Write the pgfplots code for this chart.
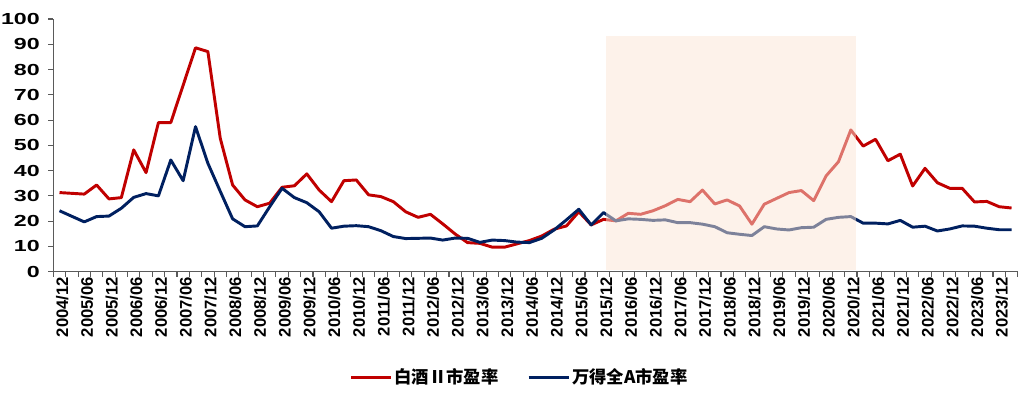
\documentclass[border=0pt]{standalone}
\usepackage{fontspec}
\usepackage{pgfplots}
\usepackage{pgfplotstable}
\pgfplotsset{compat=1.18}
\setmainfont{Liberation Sans}
\newfontfamily\widefont[FakeStretch=1.45]{Liberation Sans}
\newfontfamily\cjk{Noto Sans CJK SC}
\definecolor{redline}{RGB}{192,0,0}
\definecolor{blueline}{RGB}{0,32,96}
\definecolor{shadecol}{RGB}{251,229,213}
\definecolor{axgray}{RGB}{90,90,90}

\pgfplotstableread{
x y
0 31.3
1 31.0
2 30.7
3 34.3
4 28.8
5 29.3
6 48.2
7 39.2
8 59.0
9 59.0
10 73.8
11 88.6
12 87.1
13 52.8
14 34.3
15 28.4
16 25.7
17 27.1
18 33.4
19 34.0
20 38.7
21 32.3
22 27.7
23 36.0
24 36.3
25 30.4
26 29.7
27 27.7
28 23.7
29 21.5
30 22.7
31 18.9
32 14.9
33 11.5
34 11.2
35 9.7
36 9.7
37 11.0
38 12.3
39 14.1
40 16.8
41 18.1
42 23.7
43 18.5
44 20.7
45 20.1
46 23.1
47 22.7
48 24.1
49 26.1
50 28.6
51 27.7
52 32.3
53 26.8
54 28.4
55 26.0
56 18.8
57 26.7
58 29.0
59 31.3
60 32.1
61 28.1
62 37.9
63 43.5
64 56.1
65 49.7
66 52.4
67 43.9
68 46.5
69 33.9
70 40.9
71 35.2
72 33.0
73 33.0
74 27.6
75 27.8
76 25.7
77 25.2
}\baijiu

\pgfplotstableread{
x y
0 24.1
1 21.9
2 19.7
3 21.8
4 22.0
5 25.1
6 29.4
7 30.9
8 30.0
9 44.2
10 36.0
11 57.4
12 42.9
13 31.8
14 20.9
15 17.8
16 18.1
17 25.7
18 33.0
19 29.3
20 27.3
21 23.7
22 17.2
23 18.0
24 18.2
25 17.8
26 16.2
27 13.9
28 13.1
29 13.2
30 13.3
31 12.5
32 13.3
33 13.2
34 11.6
35 12.5
36 12.3
37 11.7
38 11.5
39 13.2
40 16.5
41 20.5
42 24.7
43 18.5
44 23.4
45 20.1
46 20.9
47 20.7
48 20.3
49 20.5
50 19.4
51 19.4
52 18.8
53 17.8
54 15.4
55 14.8
56 14.3
57 17.8
58 16.9
59 16.5
60 17.4
61 17.6
62 20.7
63 21.5
64 21.8
65 19.2
66 19.2
67 18.9
68 20.3
69 17.6
70 18.0
71 16.1
72 16.9
73 18.1
74 18.0
75 17.2
76 16.6
77 16.6
}\wind

\begin{document}
\begin{tikzpicture}
\useasboundingbox (0,0) rectangle (773.25pt,299.25pt);
\begin{axis}[
  at={(40pt,95.5pt)}, anchor=south west,
  scale only axis, width=723.3pt, height=189.5pt,
  xmin=-0.5, xmax=77.5, ymin=0, ymax=100,
  axis x line*=bottom, axis y line*=left,
  axis line style={axgray, line width=0.8pt},
  ytick={0,10,...,100},
  xtick={0,2,...,76},
  xticklabels={2004/12,2005/06,2005/12,2006/06,2006/12,2007/06,2007/12,2008/06,2008/12,2009/06,2009/12,2010/06,2010/12,2011/06,2011/12,2012/06,2012/12,2013/06,2013/12,2014/06,2014/12,2015/06,2015/12,2016/06,2016/12,2017/06,2017/12,2018/06,2018/12,2019/06,2019/12,2020/06,2020/12,2021/06,2021/12,2022/06,2022/12,2023/06,2023/12},
  minor xtick={-0.5,0.5,...,77.5},
  tick align=outside,
  major tick length=3.75pt, minor tick length=3.75pt,
  x tick style={draw=none},
  minor x tick style={draw=axgray, line width=0.8pt},
  y tick style={draw=axgray, line width=0.8pt},
  /pgf/number format/assume math mode=true,
  yticklabel style={font=\widefont\bfseries\fontsize{12}{12}\selectfont, anchor=east, inner sep=0pt, xshift=-6.2pt},
  xticklabel style={font=\bfseries\fontsize{12.5}{12.5}\selectfont, rotate=90, anchor=east, inner sep=0pt, yshift=-2pt},
  legend style={at={(0.4834,-0.418)}, anchor=center, draw=none, fill=none,
    legend columns=2, font=\cjk\bfseries\fontsize{13}{13}\selectfont,
    /tikz/every even column/.append style={column sep=20pt},
    nodes={inner sep=1.5pt}},
  legend image code/.code={\draw[#1, line width=2.2pt] (0pt,0pt) -- (30pt,0pt);},
  clip=false,
]
\addplot[redline, line width=2.2pt, line join=round] table[x=x,y=y] {\baijiu};
\addlegendentry{白酒Ⅱ市盈率}
\addplot[blueline, line width=2.2pt, line join=round] table[x=x,y=y] {\wind};
\addlegendentry{万得全A市盈率}
\fill[shadecol, fill opacity=0.5] (axis cs:44.2,0.6) rectangle (axis cs:64.4,93.4);
\end{axis}
\end{tikzpicture}
\end{document}
